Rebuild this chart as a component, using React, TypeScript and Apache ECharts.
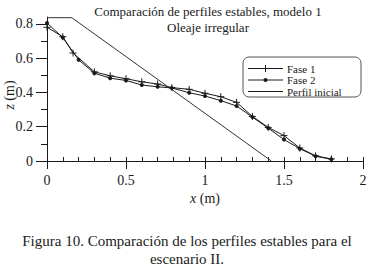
import React, { useEffect, useRef } from "react";
import * as echarts from "echarts";

const fase1X = [0, 0.1, 0.165, 0.3, 0.4, 0.5, 0.6, 0.7, 0.79, 0.9, 1.0, 1.1, 1.2, 1.3, 1.4, 1.5, 1.6, 1.7, 1.8];
const fase1Z = [0.78, 0.725, 0.63, 0.52, 0.497, 0.48, 0.462, 0.449, 0.428, 0.418, 0.395, 0.375, 0.342, 0.26, 0.196, 0.148, 0.076, 0.03, 0.012];
const fase2X = [0, 0.1, 0.2, 0.3, 0.4, 0.5, 0.6, 0.7, 0.79, 0.9, 1.0, 1.1, 1.2, 1.3, 1.4, 1.5, 1.6, 1.7, 1.8];
const fase2Z = [0.805, 0.72, 0.59, 0.512, 0.483, 0.47, 0.443, 0.433, 0.426, 0.398, 0.379, 0.352, 0.321, 0.256, 0.192, 0.125, 0.072, 0.028, 0.01];
const inicialX = [0, 0.157, 1.42];
const inicialZ = [0.836, 0.836, 0];

const xMajor = [0, 0.5, 1, 1.5, 2];
const xMinor = [0, 0.1, 0.2, 0.3, 0.4, 0.5, 0.6, 0.7, 0.8, 0.9, 1, 1.1, 1.2, 1.3, 1.4, 1.5, 1.6, 1.7, 1.8, 1.9, 2];
const yMajor = [0, 0.2, 0.4, 0.6, 0.8];
const yMinor = [0.1, 0.3, 0.5, 0.7];

const seriesNames = ["Fase 1", "Fase 2", "Perfil inicial"];
const titleLine1 = "Comparación de perfiles estables, modelo 1";
const titleLine2 = "Oleaje irregular";
const caption1 = "Figura 10. Comparación de los perfiles estables para el";
const caption2 = "escenario II.";
const yName = "{i|z} (m)";
const xName = "{i|x} (m)";

const FONT = "Liberation Serif";
const INK = "#1a1a1a";

const zip = (xs: number[], ys: number[]) => xs.map((x, i) => [x, ys[i]]);

const crossSymbol = "path://M0,5L10,5M5,0L5,10";

export default function App() {
  const ref = useRef<HTMLDivElement>(null);
  useEffect(() => {
    if (!ref.current) return;
    const chart = echarts.init(ref.current, undefined, { renderer: "svg" });
    const labelStyle = { fontFamily: FONT, fontSize: 14, color: INK };

    // legend drawn manually
    const lgX = 243, lgY = 57, lgW = 118, lgH = 40;
    const rowY = [68.5, 80, 91.5];
    const lineX0 = 248, lineX1 = 283, lineMid = 265.5;
    const legendEls: any[] = [
      {
        type: "rect",
        shape: { x: lgX, y: lgY, width: lgW, height: lgH, r: 6 },
        style: { fill: "#fff", stroke: "#555", lineWidth: 1 },
        z: 100,
      },
    ];
    seriesNames.forEach((n, i) => {
      legendEls.push({
        type: "line",
        shape: { x1: lineX0, y1: rowY[i], x2: lineX1, y2: rowY[i] },
        style: { stroke: INK, lineWidth: 1 },
        z: 101,
      });
      legendEls.push({
        type: "text",
        x: 287,
        y: rowY[i],
        style: { text: n, fontFamily: FONT, fontSize: 11, fill: INK, align: "left", verticalAlign: "middle" },
        z: 101,
      });
    });
    legendEls.push({
      type: "line",
      shape: { x1: lineMid, y1: rowY[0] - 3.5, x2: lineMid, y2: rowY[0] + 3.5 },
      style: { stroke: INK, lineWidth: 1 },
      z: 101,
    });
    legendEls.push({
      type: "circle",
      shape: { cx: lineMid, cy: rowY[1], r: 2 },
      style: { fill: INK },
      z: 101,
    });

    chart.setOption({
      animation: false,
      backgroundColor: "#fff",
      textStyle: { fontFamily: FONT, color: INK },
      grid: { left: 47, right: 10, top: 17, bottom: 111, containLabel: false, outerBoundsMode: "none" },
      xAxis: [
        {
          type: "value",
          min: 0,
          max: 2,
          name: xName,
          nameLocation: "middle",
          nameGap: 28,
          nameTextStyle: {
            fontFamily: FONT,
            fontSize: 14,
            color: INK,
            rich: { i: { fontFamily: FONT, fontStyle: "italic", fontSize: 14, color: INK } },
          },
          axisLine: { show: true, lineStyle: { color: INK, width: 1 } },
          axisTick: { show: true, inside: false, length: 8, customValues: xMajor, lineStyle: { color: INK } },
          axisLabel: { show: true, margin: 12, customValues: xMajor, showMaxLabel: true, showMinLabel: true, ...labelStyle },
          splitLine: { show: false },
        },
        {
          type: "value",
          min: 0,
          max: 2,
          position: "bottom",
          axisLine: { show: false },
          axisTick: { show: true, inside: true, length: 4, customValues: xMinor, lineStyle: { color: INK } },
          axisLabel: { show: false },
          splitLine: { show: false },
        },
      ],
      yAxis: [
        {
          type: "value",
          min: 0,
          max: 0.84,
          axisLine: { show: true, lineStyle: { color: INK, width: 1 } },
          axisTick: { show: true, inside: false, length: 11, customValues: yMajor, lineStyle: { color: INK } },
          axisLabel: { show: true, margin: 14, customValues: yMajor, ...labelStyle },
          splitLine: { show: false },
        },
        {
          type: "value",
          min: 0,
          max: 0.84,
          position: "left",
          offset: 0,
          axisLine: { show: false },
          axisTick: { show: true, inside: false, length: 6, customValues: yMinor, lineStyle: { color: INK } },
          axisLabel: { show: false },
          splitLine: { show: false },
        },
      ],
      graphic: [
        {
          type: "text",
          x: 208,
          y: 11,
          style: { text: titleLine1, fontFamily: FONT, fontSize: 13, fill: INK, align: "center", verticalAlign: "middle" },
        },
        {
          type: "text",
          x: 208,
          y: 27,
          style: { text: titleLine2, fontFamily: FONT, fontSize: 13, fill: INK, align: "center", verticalAlign: "middle" },
        },
        {
          type: "text",
          x: 9,
          y: 95,
          rotation: Math.PI / 2,
          style: {
            text: yName,
            fontFamily: FONT,
            fontSize: 14,
            fill: INK,
            align: "center",
            verticalAlign: "middle",
            rich: { i: { fontFamily: FONT, fontStyle: "italic", fontSize: 14, fill: INK } },
          },
        },
        {
          type: "text",
          x: 187,
          y: 241,
          style: { text: caption1, fontFamily: FONT, fontSize: 15, fill: INK, align: "center", verticalAlign: "middle" },
        },
        {
          type: "text",
          x: 187,
          y: 259,
          style: { text: caption2, fontFamily: FONT, fontSize: 15, fill: INK, align: "center", verticalAlign: "middle" },
        },
        ...legendEls,
      ],
      series: [
        {
          name: seriesNames[0],
          type: "line",
          data: zip(fase1X, fase1Z),
          symbol: crossSymbol,
          symbolSize: 7,
          showAllSymbol: true,
          lineStyle: { color: INK, width: 1 },
          itemStyle: { color: INK, borderColor: INK, borderWidth: 1 },
        },
        {
          name: seriesNames[1],
          type: "line",
          data: zip(fase2X, fase2Z),
          symbol: "circle",
          symbolSize: 4,
          showAllSymbol: true,
          lineStyle: { color: INK, width: 1 },
          itemStyle: { color: INK },
        },
        {
          name: seriesNames[2],
          type: "line",
          data: zip(inicialX, inicialZ),
          symbol: "none",
          lineStyle: { color: "#333", width: 1 },
          itemStyle: { color: "#333" },
        },
      ],
    });
    return () => chart.dispose();
  }, []);
  return <div ref={ref} style={{ width: 373, height: 272, position: "absolute", left: 0, top: 0 }} />;
}
